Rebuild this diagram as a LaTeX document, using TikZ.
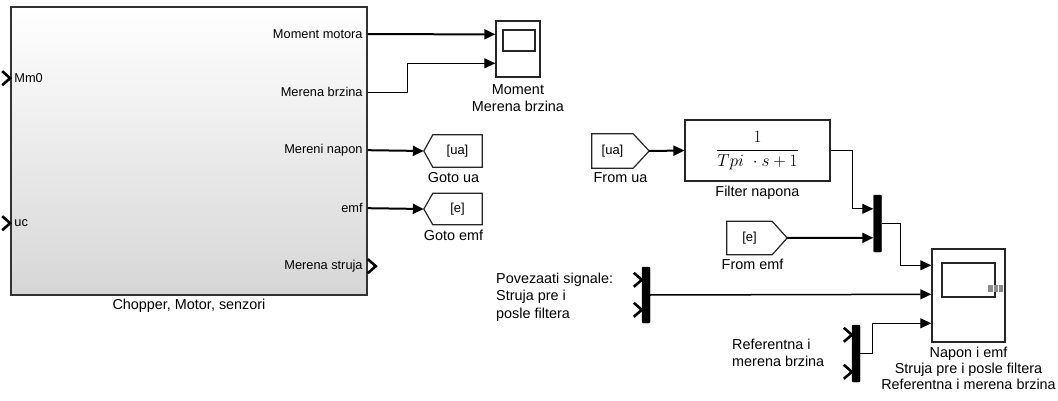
\documentclass[tikz,border=0pt]{standalone}
\usepackage{fontspec}
\setmainfont{Liberation Sans}
\usepackage{amsmath}
\usetikzlibrary{arrows.meta,positioning,calc}
\tikzset{
  blk/.style={draw=black!85, line width=1.2pt, fill=white},
  subsys/.style={draw=black!80, line width=1.6pt, top color=white,
    bottom color=black!16, minimum width=356pt, minimum height=288pt},
  scopeblk/.style={blk, line width=1.4pt},
  screen/.style={draw=black!85, line width=1.2pt, fill=white},
  tagtxt/.style={font=\fontsize{13}{15}\selectfont, inner sep=0pt},
  tagline/.style={draw=black!85, line width=1.2pt, fill=white, line join=miter},
  muxbar/.style={fill=black, draw=black, rounded corners=1pt,
    minimum width=8pt, inner sep=0pt},
  blklbl/.style={font=\fontsize{14.4}{17}\selectfont, align=center},
  portlbl/.style={font=\fontsize{12.8}{15}\selectfont, inner sep=1pt},
  notetxt/.style={font=\fontsize{14.4}{17.5}\selectfont, align=left, inner sep=0pt},
  sig/.style={line width=1pt, -{Triangle[length=11pt, width=10pt]}},
  sigthick/.style={sig, line width=2pt},
  portmark/.style={line width=2.6pt, line join=miter},
}
\newcommand{\portchev}[1]{%
  \draw[portmark] (#1) ++(-8,-7) -- ++(8,7) -- ++(-8,7);
}

\begin{document}
\begin{tikzpicture}[x=1pt, y=-1pt]
\useasboundingbox (0,0) rectangle (1058,401);

%% -- subsystem --------------------------------------------------------------
\node[subsys, label={[blklbl]below:{Chopper, Motor, senzori}}]
  (chopper) at (189,151) {};

\coordinate (pMm) at ($(chopper.north west)+(0,72)$);
\coordinate (pUc) at ($(chopper.north west)+(0,217)$);
\coordinate (pMom) at ($(chopper.north east)+(0,28)$);
\coordinate (pBrz) at ($(chopper.north east)+(0,86)$);
\coordinate (pNap) at ($(chopper.north east)+(0,144)$);
\coordinate (pEmf) at ($(chopper.north east)+(0,202)$);
\coordinate (pStr) at ($(chopper.north east)+(0,260)$);

\node[portlbl, anchor=west] (lMm)  at ($(pMm)+(3,0)$) {Mm0};
\node[portlbl, anchor=west] (lUc)  at ($(pUc)+(3,0)$) {uc};
\node[portlbl, anchor=east] (lMom) at ($(pMom)+(-4,0)$) {Moment motora};
\node[portlbl, anchor=east] (lBrz) at ($(pBrz)+(-4,0)$) {Merena brzina};
\node[portlbl, anchor=east] (lNap) at ($(pNap)+(-4,0)$) {Mereni napon};
\node[portlbl, anchor=east] (lEmf) at ($(pEmf)+(-4,0)$) {emf};
\node[portlbl, anchor=east] (lStr) at ($(pStr)+(-4,0)$) {Merena struja};

\portchev{pMm}
\portchev{pUc}
\portchev{$(pStr)+(8,0)$}

%% -- scope Moment / Merena brzina ------------------------------------------
\node[scopeblk, minimum width=44pt, minimum height=56pt,
      label={[blklbl, label distance=3pt]below:Moment\\Merena brzina}]
  (scopeMom) at (518,49) {};
\node[screen, minimum width=32pt, minimum height=21pt] (scrMom) at (519,40.5) {};
\coordinate (sMomA) at ($(scopeMom.north west)+(0,14)$);
\coordinate (sMomB) at ($(scopeMom.north west)+(0,43)$);

\draw[sigthick] (pMom) -- (sMomA);
\draw[sig] (pBrz) -- ++(40,0) |- (sMomB);

%% -- goto blocks --------------------------------------------------------------
\node[tagtxt, minimum width=49pt, minimum height=32pt,
      label={[blklbl, xshift=-4pt, label distance=2pt]below:Goto ua}]
  (gotoUa) at (457.5,151) {[ua]};
\coordinate (gotoUaTip) at ($(gotoUa.west)+(-9,0)$);
\draw[tagline] (gotoUa.north west) -- (gotoUa.north east) -- (gotoUa.south east)
  -- (gotoUa.south west) -- (gotoUaTip) -- cycle;
\node[tagtxt] at (gotoUa) {[ua]};

\node[tagtxt, minimum width=49pt, minimum height=31pt,
      label={[blklbl, xshift=-4pt, label distance=2pt]below:Goto emf}]
  (gotoE) at (457.5,209) {[e]};
\coordinate (gotoETip) at ($(gotoE.west)+(-9,0)$);
\draw[tagline] (gotoE.north west) -- (gotoE.north east) -- (gotoE.south east)
  -- (gotoE.south west) -- (gotoETip) -- cycle;
\node[tagtxt] at (gotoE) {[e]};

\draw[sigthick] (pNap) -- (gotoUaTip);
\draw[sigthick] (pEmf) -- (gotoETip);

%% -- from blocks and filter ---------------------------------------------------
\node[tagtxt, minimum width=41pt, minimum height=34pt,
      label={[blklbl, xshift=8pt, label distance=1pt]below:From ua}]
  (fromUa) at (612.5,151) {};
\coordinate (fromUaTip) at ($(fromUa.east)+(16,0)$);
\draw[tagline] (fromUa.north east) -- (fromUa.north west) -- (fromUa.south west)
  -- (fromUa.south east) -- (fromUaTip) -- cycle;
\node[tagtxt] at (fromUa) {[ua]};

\node[tagtxt, minimum width=45pt, minimum height=33pt,
      label={[blklbl, xshift=3pt, label distance=1pt]below:From emf}]
  (fromE) at (749.5,238) {};
\coordinate (fromETip) at ($(fromE.east)+(15,0)$);
\draw[tagline] (fromE.north east) -- (fromE.north west) -- (fromE.south west)
  -- (fromE.south east) -- (fromETip) -- cycle;
\node[tagtxt] at (fromE) {[e]};

\node[blk, minimum width=145pt, minimum height=61pt,
      font=\fontsize{18.5}{21}\selectfont,
      label={[blklbl, label distance=1pt]below:Filter napona}]
  (filtUa) at (757.5,150.5) {$\dfrac{1}{Tpi\ \cdot s+1}$};

\draw[sigthick] (fromUaTip) -- (filtUa.west);

%% -- muxes ------------------------------------------------------------------
\node[muxbar, minimum height=57pt] (muxUe) at (877.5,223.5) {};
\coordinate (mUeA) at ($(muxUe.north west)+(0,14)$);
\coordinate (mUeB) at ($(muxUe.north west)+(0,43)$);

\draw[sig] (filtUa.east) -- ++(22,0) |- (mUeA);
\draw[sigthick] (fromETip) -- (mUeB);

\node[muxbar, minimum height=56pt] (muxI) at (646,295) {};
\coordinate (mIA) at ($(muxI.north west)+(0,13)$);
\coordinate (mIB) at ($(muxI.north west)+(0,43)$);
\portchev{mIA}
\portchev{mIB}
\node[notetxt, anchor=west] (noteI) at (496,297)
  {Povezaati signale:\\Struja pre i\\posle filtera};

\node[muxbar, minimum height=57pt] (muxW) at (856,353.5) {};
\coordinate (mWA) at ($(muxW.north west)+(0,10)$);
\coordinate (mWB) at ($(muxW.north west)+(0,47)$);
\portchev{mWA}
\portchev{mWB}
\node[notetxt, anchor=west] (noteW) at (732,353)
  {Referentna i\\merena brzina};

%% -- scope Napon / Struja / Brzina -------------------------------------------
\node[scopeblk, minimum width=73pt, minimum height=93pt,
      label={[blklbl, label distance=1pt, font=\fontsize{14.4}{15.8}\selectfont]below:Napon i emf\\Struja pre i posle filtera\\Referentna i merena brzina}]
  (scopeAll) at (968.5,295.5) {};
\node[screen, minimum width=53pt, minimum height=34pt] (scrAll) at (968.5,280) {};
\node[fill=black!45, minimum width=15pt, minimum height=7pt, inner sep=0pt]
  (mrkAll) at (995.5,288.5) {};
\draw[white, line width=0.8pt] ($(mrkAll.north)+(-2,0)$) -- ($(mrkAll.south)+(-2,0)$);
\draw[white, line width=0.8pt] ($(mrkAll.north)+(3,0)$) -- ($(mrkAll.south)+(3,0)$);
\coordinate (sAllA) at ($(scopeAll.north west)+(0,17)$);
\coordinate (sAllB) at ($(scopeAll.north west)+(0,46)$);
\coordinate (sAllC) at ($(scopeAll.north west)+(0,75)$);

\draw[sig] (muxUe.east) -- ++(19,0) |- (sAllA);
\draw[sig, line width=1.5pt] (muxI.east) -- (sAllB);
\draw[sig] (muxW.east) -- ++(12,0) |- (sAllC);

\end{tikzpicture}
\end{document}
